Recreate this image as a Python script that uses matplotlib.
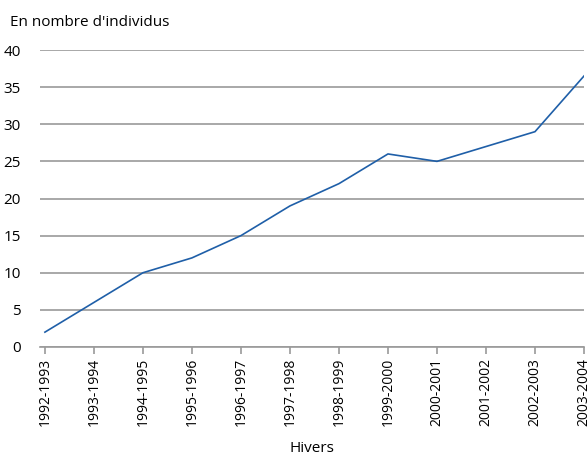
import matplotlib
matplotlib.use("Agg")
import matplotlib.pyplot as plt

seasons = ["1992-1993", "1993-1994", "1994-1995", "1995-1996", "1996-1997",
           "1997-1998", "1998-1999", "1999-2000", "2000-2001", "2001-2002",
           "2002-2003", "2003-2004"]
individus = [2, 6, 10, 12, 15, 19, 22, 26, 25, 27, 29, 36.5]
yticks = [0, 5, 10, 15, 20, 25, 30, 35, 40]

plt.rcParams["font.family"] = ["Open Sans", "DejaVu Sans"]

fig = plt.figure(figsize=(5.87, 4.57), dpi=100)
ax = fig.add_axes([40 / 587, 1 - 347 / 457, 544 / 587, 297 / 457])

x = range(len(seasons))
ax.plot(x, individus, color="#1f5fa8", lw=1.2, zorder=3)

ax.set_ylim(0, 40)
ax.set_xlim(-0.1, len(seasons) - 1)
ax.set_yticks(yticks)
ax.yaxis.grid(True, color="#9a9a9a", lw=1.2)
ax.set_axisbelow(True)
ax.tick_params(axis="y", length=0, labelsize=11, pad=14)
ax.set_xticks(list(x))
ax.set_xticklabels(seasons, rotation=90, fontsize=10)
ax.tick_params(axis="x", length=5, color="#9a9a9a", width=1.2, pad=3)

for s in ["top", "right", "left"]:
    ax.spines[s].set_visible(False)
ax.spines["bottom"].set_color("#9a9a9a")
ax.spines["bottom"].set_linewidth(1.2)

fig.text(312 / 587, 1 - 449 / 457, "Hivers", fontsize=11, ha="center", va="center")
fig.text(10 / 587, 1 - 22 / 457, "En nombre d'individus", fontsize=11, va="center")

fig.savefig("out.png", dpi=100)
